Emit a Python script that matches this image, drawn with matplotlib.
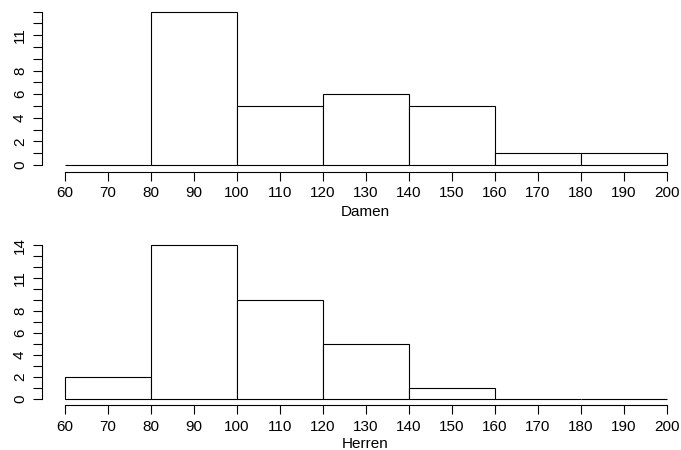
import matplotlib
matplotlib.use("Agg")
import matplotlib.pyplot as plt
import numpy as np

plt.rcParams['font.family'] = ['Liberation Sans', 'DejaVu Sans']

bin_edges = [60, 80, 100, 120, 140, 160, 180, 200]
damen_counts = [0, 13, 5, 6, 5, 1, 1]
herren_counts = [2, 14, 9, 5, 1, 0, 0]
x_ticks = list(range(60, 201, 10))
damen_ylabels = {0: "0", 2: "2", 4: "4", 6: "6", 8: "8", 11: "11"}
herren_ylabels = {0: "0", 2: "2", 4: "4", 6: "6", 8: "8", 11: "11", 14: "14"}

W, H = 681, 450
fig = plt.figure(figsize=(W / 100, H / 100), dpi=100)

FS = 11

px_per_unit = (667 - 65) / 140.0
xlim0 = 60 - (65 - 41.5) / px_per_unit
xlim1 = xlim0 + (681 - 41.5) / px_per_unit


def panel(counts, labels, ymax, top_px, bottom_px, y0_px, ymax_px, xlabel, xlabel_y):
    unit = (y0_px - ymax_px) / ymax
    ylo = -(bottom_px - y0_px) / unit
    yhi = (y0_px - top_px) / unit
    ax = fig.add_axes([41.5 / W, 1 - bottom_px / H, (681 - 41.5) / W, (bottom_px - top_px) / H])
    lefts = bin_edges[:-1]
    widths = np.diff(bin_edges)
    ax.bar(lefts, counts, width=widths, align='edge', facecolor='white',
           edgecolor='black', linewidth=0.8)
    ax.set_xlim(xlim0, xlim1)
    ax.set_ylim(ylo, yhi)
    for s in ['top', 'right']:
        ax.spines[s].set_visible(False)
    ax.spines['left'].set_bounds(0, ymax)
    ax.spines['bottom'].set_bounds(60, 200)
    ax.spines['left'].set_linewidth(0.8)
    ax.spines['bottom'].set_linewidth(0.8)
    ax.set_xticks(x_ticks)
    ax.set_xticklabels([str(v) for v in x_ticks], fontsize=FS)
    yt = list(range(0, ymax + 1))
    ax.set_yticks(yt)
    ax.set_yticklabels([labels.get(v, "") for v in yt], fontsize=FS, rotation=90, va='center')
    ax.tick_params(axis='both', length=6.5, width=0.8)
    ax.tick_params(axis='x', pad=4)
    ax.tick_params(axis='y', pad=4)
    fig.text(365 / W, 1 - xlabel_y / H, xlabel, ha='center', va='center', fontsize=FS)
    return ax


panel(damen_counts, damen_ylabels, 13, 5.6, 171.7, 165, 11.5, "Damen", 211.5)
panel(herren_counts, herren_ylabels, 14, 239, 405, 399, 245, "Herren", 444)

fig.savefig("out.png", dpi=100)
